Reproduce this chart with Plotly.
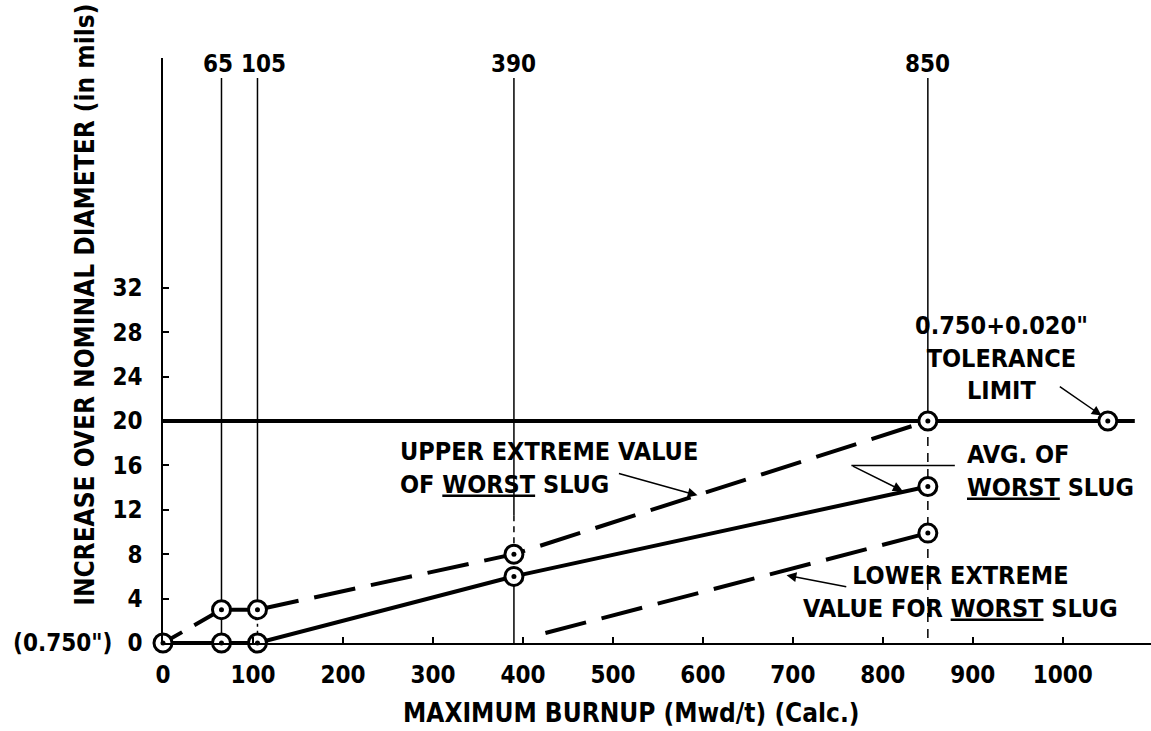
import plotly.graph_objects as go

# ---------------- data ----------------
burnup = [0, 65, 105, 390, 850]                 # Mwd/t
avg_increase = [0, 0, 0, 6, 14.1]               # mils, avg of worst slug
upper_increase = [0, 3, 3, 8, 20]               # mils, upper extreme of worst slug
lower_burnup = [425, 850]
lower_increase = [0.9, 9.9]                     # mils, lower extreme for worst slug
tolerance_burnup = [0, 1080]
tolerance_increase = [20, 20]                   # 0.750 + 0.020" limit
tolerance_marker_burnup = [850, 1050]
reference_burnups = [65, 105, 390, 850]
reference_labels = ["65", "105", "390", "850"]

x_tickvals = [0, 100, 200, 300, 400, 500, 600, 700, 800, 900, 1000]
x_ticktext = ["0", "100", "200", "300", "400", "500", "600", "700", "800", "900", "1000"]
y_tickvals = [0, 4, 8, 12, 16, 20, 24, 28, 32]
y_ticktext = ['(0.750")\u00a0\u00a00', "4", "8", "12", "16", "20", "24", "28", "32"]

# ---------------- style ----------------
FONT = "DejaVu Sans Condensed, DejaVu Sans, sans-serif"
BLACK = "black"
REF_TOP = 50.9
X_RANGE = [0, 1098]
Y_RANGE = [0, 52.7]
DASH = "42px,16px"
TXT = 25
TICK = 24
LABEL_SHIFT = [-3, 6, 0, 0]

fig = go.Figure()

def seg(x0, y0, x1, y1, width=1.5, dash="solid"):
    fig.add_trace(go.Scatter(x=[x0, x1], y=[y0, y1], mode="lines",
                             line=dict(color=BLACK, width=width, dash=dash),
                             hoverinfo="skip", showlegend=False, cliponaxis=False))

# thin reference verticals
seg(reference_burnups[0], REF_TOP, reference_burnups[0], avg_increase[1])
seg(reference_burnups[1], REF_TOP, reference_burnups[1], upper_increase[2])
seg(reference_burnups[1], upper_increase[2], reference_burnups[1], avg_increase[2], dash="3px,4px")
seg(reference_burnups[2], REF_TOP, reference_burnups[2], 11.5)
seg(reference_burnups[2], 11.5, reference_burnups[2], upper_increase[3], dash="6px,5px")
seg(reference_burnups[2], avg_increase[3], reference_burnups[2], 0)
seg(reference_burnups[3], REF_TOP, reference_burnups[3], upper_increase[4])
seg(reference_burnups[3], upper_increase[4], reference_burnups[3], 0, dash="9px,7px")

# tolerance limit
fig.add_trace(go.Scatter(x=tolerance_burnup, y=tolerance_increase, mode="lines",
                         line=dict(color=BLACK, width=4), hoverinfo="skip",
                         showlegend=False, cliponaxis=False))
# average of worst slug
fig.add_trace(go.Scatter(x=burnup, y=avg_increase, mode="lines",
                         line=dict(color=BLACK, width=4), hoverinfo="skip",
                         showlegend=False, cliponaxis=False))
# upper extreme of worst slug
fig.add_trace(go.Scatter(x=burnup[:2], y=upper_increase[:2], mode="lines",
                         line=dict(color=BLACK, width=4, dash="22px,14px"), hoverinfo="skip",
                         showlegend=False, cliponaxis=False))
fig.add_trace(go.Scatter(x=burnup[1:3], y=upper_increase[1:3], mode="lines",
                         line=dict(color=BLACK, width=4), hoverinfo="skip",
                         showlegend=False, cliponaxis=False))
fig.add_trace(go.Scatter(x=burnup[2:], y=upper_increase[2:], mode="lines",
                         line=dict(color=BLACK, width=4, dash=DASH), hoverinfo="skip",
                         showlegend=False, cliponaxis=False))
# lower extreme for worst slug
fig.add_trace(go.Scatter(x=lower_burnup, y=lower_increase, mode="lines",
                         line=dict(color=BLACK, width=4, dash=DASH), hoverinfo="skip",
                         showlegend=False, cliponaxis=False))

# circle-dot markers
mx = burnup + burnup[1:] + [lower_burnup[-1]] + tolerance_marker_burnup[1:]
my = avg_increase + upper_increase[1:] + [lower_increase[-1]] + tolerance_increase[1:]
fig.add_trace(go.Scatter(x=mx, y=my, mode="markers",
                         marker=dict(size=18, color="white", line=dict(color=BLACK, width=3)),
                         hoverinfo="skip", showlegend=False, cliponaxis=False))
fig.add_trace(go.Scatter(x=mx, y=my, mode="markers",
                         marker=dict(size=5, color=BLACK),
                         hoverinfo="skip", showlegend=False, cliponaxis=False))

# ---------------- annotations ----------------
ann = []
for xv, lab, sh in zip(reference_burnups, reference_labels, LABEL_SHIFT):
    ann.append(dict(x=xv, y=52.2, xref="x", yref="y", text=lab, showarrow=False,
                    xshift=sh, font=dict(size=TICK), xanchor="center", yanchor="middle"))

ann.append(dict(x=597, y=15.8, xref="x", yref="y",
                text="UPPER EXTREME VALUE<br>OF <u>WORST</u> SLUG", showarrow=False,
                align="left", xanchor="right", yanchor="middle", font=dict(size=TXT)))
ann.append(dict(x=594, y=13.3, ax=505, ay=15.3, xref="x", yref="y", axref="x", ayref="y",
                text="", showarrow=True, arrowhead=2, arrowsize=1.3, arrowwidth=1.5,
                arrowcolor=BLACK))

ann.append(dict(x=891, y=15.5, xref="x", yref="y",
                text="AVG. OF<br><u>WORST</u> SLUG", showarrow=False,
                align="left", xanchor="left", yanchor="middle", font=dict(size=TXT)))
ann.append(dict(x=822, y=13.7, ax=765, ay=16.0, xref="x", yref="y", axref="x", ayref="y",
                text="", showarrow=True, arrowhead=2, arrowsize=1.3, arrowwidth=1.5,
                arrowcolor=BLACK))

ann.append(dict(x=886, y=4.55, xref="x", yref="y",
                text="LOWER EXTREME<br>VALUE FOR <u>WORST</u> SLUG", showarrow=False,
                align="center", xanchor="center", yanchor="middle", font=dict(size=TXT)))
ann.append(dict(x=693, y=6.1, ax=761, ay=5.05, xref="x", yref="y", axref="x", ayref="y",
                text="", showarrow=True, arrowhead=2, arrowsize=1.3, arrowwidth=1.5,
                arrowcolor=BLACK))

ann.append(dict(x=932, y=25.7, xref="x", yref="y",
                text='0.750+0.020"<br>TOLERANCE<br>LIMIT', showarrow=False,
                align="center", xanchor="center", yanchor="middle", font=dict(size=TXT)))
ann.append(dict(x=1043, y=20.5, ax=995, ay=23.2, xref="x", yref="y", axref="x", ayref="y",
                text="", showarrow=True, arrowhead=2, arrowsize=1.3, arrowwidth=1.5,
                arrowcolor=BLACK))

# axis titles
ann.append(dict(x=-0.079, y=0.578, xref="paper", yref="paper",
                text="INCREASE OVER NOMINAL DIAMETER (in mils)", textangle=-90,
                showarrow=False, xanchor="center", yanchor="middle", font=dict(size=26)))
ann.append(dict(x=0.474, y=-0.12, xref="paper", yref="paper",
                text="MAXIMUM BURNUP (Mwd/t) (Calc.)",
                showarrow=False, xanchor="center", yanchor="middle", font=dict(size=26)))

shapes = [dict(type="line", xref="x", yref="y", x0=765, y0=16.0, x1=880, y1=16.0,
               line=dict(color=BLACK, width=1.5))]

fig.update_layout(
    width=1151, height=731,
    margin=dict(l=163, r=0, t=58, b=88),
    paper_bgcolor="white", plot_bgcolor="white",
    font=dict(family=FONT, color=BLACK, size=TXT, weight="bold"),
    showlegend=False,
    annotations=ann,
    shapes=shapes,
    xaxis=dict(range=X_RANGE, tickvals=x_tickvals, ticktext=x_ticktext,
               showgrid=False, zeroline=False, showline=True, linecolor=BLACK, linewidth=1.5,
               ticks="inside", ticklen=6, tickwidth=1.5, tickcolor=BLACK,
               ticklabelstandoff=9, tickfont=dict(size=TICK)),
    yaxis=dict(range=Y_RANGE, tickvals=y_tickvals, ticktext=y_ticktext,
               showgrid=False, zeroline=False, showline=True, linecolor=BLACK, linewidth=1.5,
               ticks="inside", ticklen=6, tickwidth=1.5, tickcolor=BLACK,
               ticklabelstandoff=14, tickfont=dict(size=TICK)),
)

fig.write_html("out.html")
